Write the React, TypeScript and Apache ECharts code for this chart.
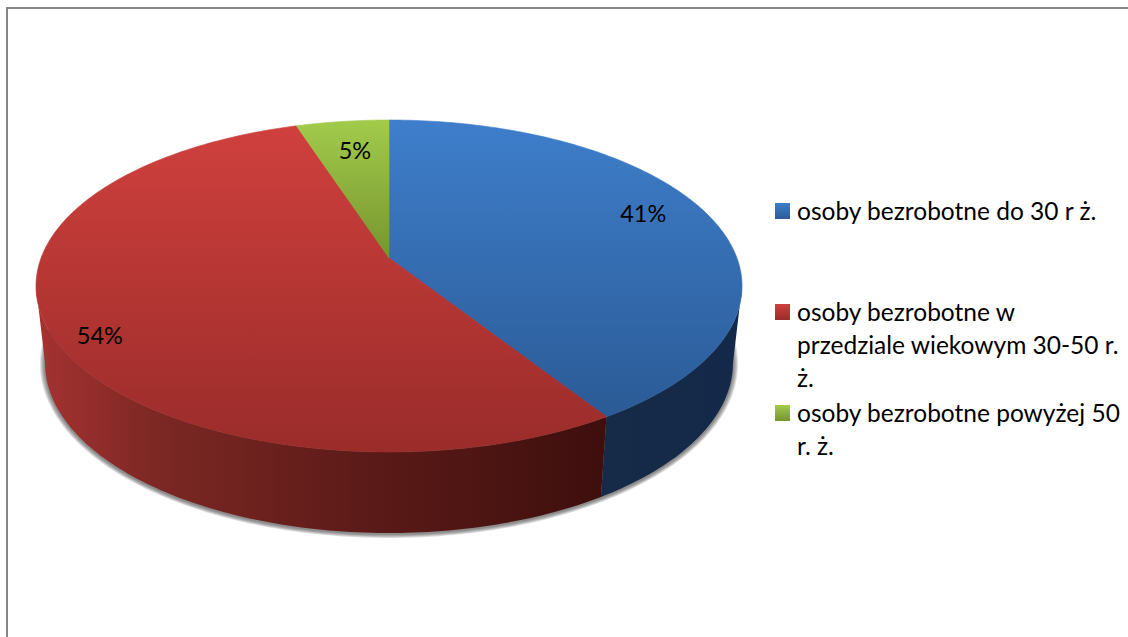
import React, { useEffect, useRef } from "react";
import * as echarts from "echarts";

const categories = ["osoby bezrobotne do 30 r ż.", "osoby bezrobotne w przedziale wiekowym 30-50 r. ż.", "osoby bezrobotne powyżej 50 r. ż."];
const values = [41, 54, 5];
const legendLines = [
  ["osoby bezrobotne do 30 r ż."],
  ["osoby bezrobotne w", "przedziale wiekowym 30-50 r.", "ż."],
  ["osoby bezrobotne powyżej 50", "r. ż."],
];
const topColors = [["#3e7ecb", "#2b5b96"], ["#cf403d", "#9a2c2a"], ["#a2cb4b", "#76952f"]];
const legendY = [203, 304, 405];
const labelRadius = [0.817, 0.889, 0.754];
const labelTurn = [-4.2, -5, 0.6];
const shadowSteps = [5, 4, 3, 2, 1];

const FONT = "Lato";
const TILT = -0.169; // perspective shift of the pie's centre
const TOP = { cx: 389, cy: 286, rx: 353, ry: 166 };
const BOTTOM = { cx: 389, cy: 363, rx: 344, ry: 170 };
const total = values.reduce((a, b) => a + b, 0);
// the wall is visible only between the left and right extremes of the top ellipse
const FRONT_FROM = (Math.acos(TILT) * 180) / Math.PI;
const FRONT_TO = 360 - FRONT_FROM;

function project(e: typeof TOP, turn: number, r = 1) {
  const t = (turn * Math.PI) / 180;
  const u = r * Math.sin(t);
  const v = -r * Math.cos(t);
  const d = 1 + TILT * v;
  return [e.cx + (e.rx * (u * Math.sqrt(1 - TILT * TILT))) / d, e.cy + (e.ry * (v + TILT)) / d];
}
function arc(e: typeof TOP, from: number, to: number) {
  const pts: number[][] = [];
  const n = Math.max(2, Math.ceil(Math.abs(to - from)));
  for (let i = 0; i <= n; i++) pts.push(project(e, from + ((to - from) * i) / n));
  return pts;
}
function sliceRange(i: number) {
  let s = 0;
  for (let k = 0; k < i; k++) s += values[k];
  return [(s / total) * 360, ((s + values[i]) / total) * 360];
}
function grad(x0: number, y0: number, x1: number, y1: number, stops: [number, string][]) {
  return new echarts.graphic.LinearGradient(x0, y0, x1, y1, stops.map(([offset, color]) => ({ offset, color })), true);
}
const wallFill = [
  () => grad(600, 0, 742, 0, [[0, "#152b47"], [1, "#14294a"]]),
  () => grad(40, 0, 602, 0, [[0, "#a53231"], [0.2, "#7d2824"], [0.6, "#5a1a17"], [1, "#3e0f0d"]]),
  () => grad(0, 0, 1, 0, [[0, "#76952f"], [1, "#76952f"]]),
];

function renderWall(params: any) {
  const i = params.dataIndex;
  const [s, e] = sliceRange(i);
  const a = Math.max(s, FRONT_FROM);
  const b = Math.min(e, FRONT_TO);
  const children: any[] = [];
  if (i === 0) {
    shadowSteps.forEach((k) => {
      const grown = { cx: BOTTOM.cx, cy: BOTTOM.cy + 1, rx: BOTTOM.rx + k, ry: BOTTOM.ry + k * 0.8 };
      children.push({
        type: "polygon",
        shape: { points: arc(grown, 0, 360) },
        style: { fill: "rgba(60,60,60,0.16)" },
      });
    });
  }
  if (b > a) {
    children.push({
      type: "polygon",
      shape: { points: [...arc(TOP, a, b), ...arc(BOTTOM, b, a)] },
      style: { fill: wallFill[i]() },
    });
  }
  return { type: "group", children };
}
function renderTop(params: any) {
  const i = params.dataIndex;
  const [a, b] = sliceRange(i);
  const pts = [project(TOP, 0, 0), ...arc(TOP, a, b)];
  const ys = pts.map((p) => p[1]);
  const fill = grad(0, Math.min(...ys), 0, Math.max(...ys), [[0, topColors[i][0]], [1, topColors[i][1]]]);
  const [lx, ly] = project(TOP, (a + b) / 2 + labelTurn[i], labelRadius[i]);
  return {
    type: "group",
    children: [
      { type: "polygon", shape: { points: pts }, style: { fill, stroke: fill, lineWidth: 0.6 } },
      {
        type: "text",
        x: lx,
        y: ly - 1,
        style: { text: `${values[i]}%`, fill: "#000", font: `23.5px ${FONT}`, align: "center", verticalAlign: "middle" },
      },
    ],
  };
}

export default function App() {
  const ref = useRef<HTMLDivElement>(null);
  useEffect(() => {
    const chart = echarts.init(ref.current!, undefined, { renderer: "svg" });
    const seriesData = categories.map((name, i) => ({ name, value: values[i] }));
    const legendGraphics: any[] = [];
    legendLines.forEach((lines, i) => {
      legendGraphics.push({
        type: "rect",
        shape: { x: 775, y: legendY[i], width: 15, height: 16 },
        style: { fill: grad(0, legendY[i], 0, legendY[i] + 16, [[0, topColors[i][0]], [1, topColors[i][1]]]) },
      });
      lines.forEach((line, k) => {
        legendGraphics.push({
          type: "text",
          x: 797,
          y: legendY[i] + 7 + k * 33,
          style: { text: line, fill: "#000", font: `24.5px ${FONT}`, align: "left", verticalAlign: "middle" },
        });
      });
    });
    chart.setOption({
      animation: false,
      backgroundColor: "#fff",
      series: [
        { type: "custom", coordinateSystem: "none", renderItem: renderWall, data: seriesData, z: 1, silent: true },
        { type: "custom", coordinateSystem: "none", renderItem: renderTop, data: seriesData, z: 2, silent: true },
      ],
      graphic: [
        { type: "rect", shape: { x: 6, y: 7, width: 2, height: 630 }, style: { fill: "#868686" } },
        { type: "rect", shape: { x: 6, y: 7, width: 1122, height: 2 }, style: { fill: "#868686" } },
        ...legendGraphics,
      ],
    });
    return () => chart.dispose();
  }, []);
  return <div ref={ref} style={{ position: "absolute", left: 0, top: 0, width: 1128, height: 637 }} />;
}
